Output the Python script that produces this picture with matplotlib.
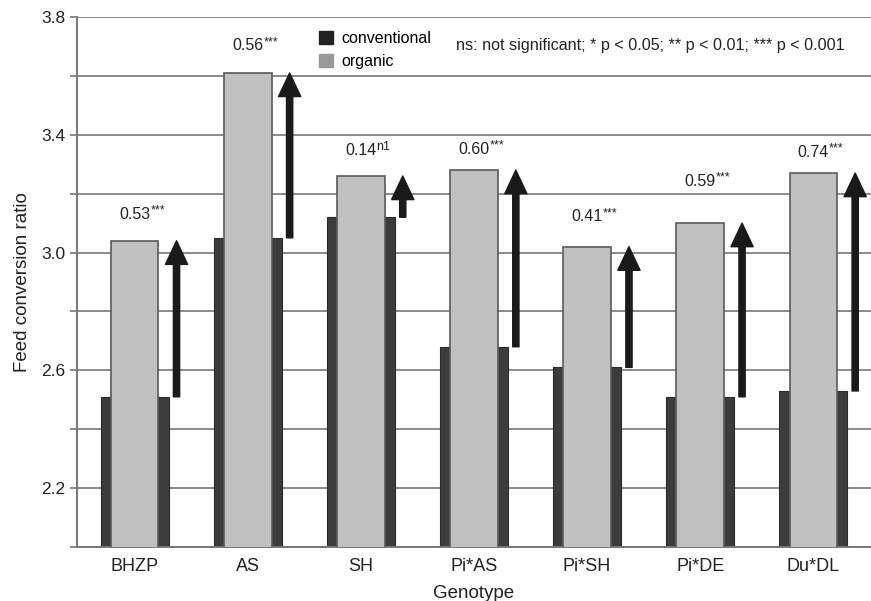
import numpy as np
import matplotlib.pyplot as plt
from matplotlib.patches import Patch

plt.rcParams['font.family'] = ['Liberation Sans', 'DejaVu Sans']

genotypes = ['BHZP', 'AS', 'SH', 'Pi*AS', 'Pi*SH', 'Pi*DE', 'Du*DL']
organic = [3.04, 3.61, 3.26, 3.28, 3.02, 3.10, 3.27]
difference = [0.53, 0.56, 0.14, 0.60, 0.41, 0.59, 0.74]
signif = ['***', '***', 'n1', '***', '***', '***', '***']
conventional = [o - d for o, d in zip(organic, difference)]

# vertical offset of the difference labels above the organic bar (points)
label_off = [19, 19.5, 18, 15, 21.5, 30, 15]

x = np.arange(len(genotypes))

fig = plt.figure(figsize=(8.71, 6.01), dpi=100)
ax = fig.add_axes([0.0884, 0.0899, 0.9116, 0.8818])

ax.set_axisbelow(True)
ax.yaxis.grid(True, color='#8a8a8a', lw=1.4)
ax.bar(x, conventional, width=0.6, color='#3c3c3c', edgecolor='#2a2a2a', lw=0.8, zorder=2)
ax.bar(x, organic, width=0.42, color='#c0c0c0', edgecolor='#5a5a5a', lw=1.2, zorder=3)

for xi, o, c, d, s, off in zip(x, organic, conventional, difference, signif, label_off):
    ax.annotate('', xy=(xi + 0.37, o), xytext=(xi + 0.37, c),
                arrowprops=dict(width=4.5, headwidth=16, headlength=17,
                                facecolor='#1a1a1a', edgecolor='#1a1a1a', shrink=0),
                zorder=4)
    num = ax.annotate('%.2f' % d, xy=(xi, o), xytext=(0, off),
                      textcoords='offset points', ha='center', va='center',
                      fontsize=11.5, color='#222222')
    ax.annotate(s, xy=(1, 1), xycoords=num, xytext=(0, 1.5),
                textcoords='offset points', ha='left', va='top',
                fontsize=9, color='#222222')

ax.set_xlim(-0.51, 6.51)
ax.set_ylim(2.0, 3.8)
yt = np.round(np.arange(2.0, 3.81, 0.2), 1)
ax.set_yticks(yt)
ax.set_yticklabels(['%.1f' % v if round((v - 2.2) / 0.4, 3) % 1 == 0 else '' for v in yt])
ax.set_xticks(x)
ax.set_xticklabels(genotypes)
ax.tick_params(axis='x', length=0, labelsize=13, pad=8, colors='#222222')
ax.tick_params(axis='y', length=5, width=1.2, color='#777777', labelsize=12.5)
for lab in ax.get_yticklabels():
    lab.set_color('#222222')
ax.spines['top'].set_visible(False)
ax.spines['right'].set_visible(False)
for side in ['left', 'bottom']:
    ax.spines[side].set_color('#777777')
    ax.spines[side].set_linewidth(1.4)

ax.set_xlabel('Genotype', fontsize=13.5, color='#222222', labelpad=7)
ax.set_ylabel('Feed conversion ratio', fontsize=13.5, color='#222222', labelpad=7)

handles = [Patch(facecolor='#222222', edgecolor='#222222'),
           Patch(facecolor='#999999', edgecolor='#999999')]
fig.legend(handles, ['conventional', 'organic'], loc='upper left',
           bbox_to_anchor=(0.35, 0.972), frameon=False, fontsize=11.5,
           handlelength=0.85, handleheight=0.85, handletextpad=0.55, labelspacing=0.5)
fig.text(0.523, 0.925, 'ns: not significant; * p < 0.05; ** p < 0.01; *** p < 0.001',
         fontsize=11.6, color='#222222', va='center')

fig.savefig('out.png', dpi=100)
